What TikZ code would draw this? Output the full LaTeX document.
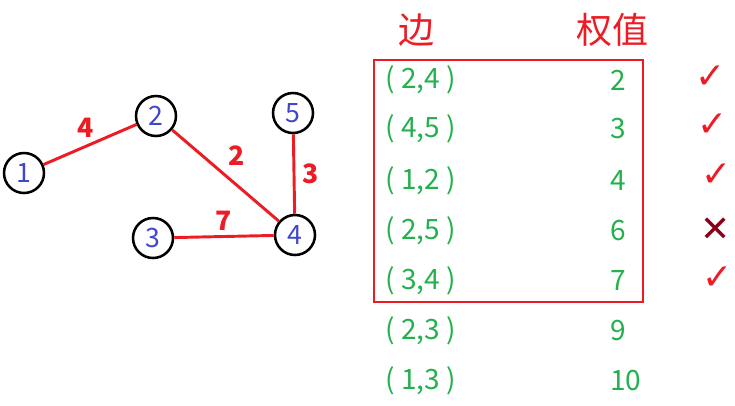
\documentclass[tikz,border=0pt]{standalone}
\usepackage{fontspec}
\setmainfont{Noto Sans CJK SC}
\newfontfamily\symfont{DejaVu Sans}
\usetikzlibrary{positioning}
\definecolor{edgered}{RGB}{237,28,36}
\definecolor{tabgreen}{RGB}{34,177,76}
\definecolor{numblue}{RGB}{63,72,204}
\definecolor{darkred}{RGB}{136,0,21}

\begin{document}
\begin{tikzpicture}[
        x=0.75pt, y=-0.75pt,
        vertex/.style={circle, draw=black, line width=1.9pt, minimum size=30pt, inner sep=0pt, text=numblue, font=\fontsize{20}{20}\selectfont},
        edge/.style={draw=edgered, line width=2.2pt},
        weight/.style={text=edgered, font=\fontsize{20}{20}\selectfont\bfseries},
        head/.style={text=edgered, font=\fontsize{27}{27}\selectfont},
        pair/.style={anchor=west, text=tabgreen, font=\fontsize{21}{21}\selectfont, inner sep=0pt},
        cost/.style={anchor=west, text=tabgreen, font=\fontsize{21}{21}\selectfont, inner sep=0pt},
        tick/.style={font=\symfont\fontsize{27}{27}\selectfont}
    ]
        \useasboundingbox (0,0) rectangle (735,405);

        % graph
        \node[vertex] (v1) at (24,173) {1};
        \node[vertex] (v2) at (156,116) {2};
        \node[vertex] (v5) at (293,113) {5};
        \node[vertex] (v3) at (153,238) {3};
        \node[vertex] (v4) at (295,235) {4};

        \draw[edge] (v1) -- node[weight, above=2pt, pos=0.45] {4} (v2);
        \draw[edge] (v2) -- node[weight, above right=0pt and 2pt, pos=0.45] {2} (v4);
        \draw[edge] (v5) -- node[weight, right=2pt] {3} (v4);
        \draw[edge] (v3) -- node[weight, above=0pt] {7} (v4);

        % table
        \node[head] (hedge) at (416,30) {边};
        \node[head] (hcost) at (612,30) {权值};
        \draw[edgered, line width=2.1pt] (374,60) rectangle (643,302);

        \node[pair] (p1) at (385,80) {( 2,4 )};
        \node[pair] (p2) at (385,129) {( 4,5 )};
        \node[pair] (p3) at (385,181) {( 1,2 )};
        \node[pair] (p4) at (385,231) {( 2,5 )};
        \node[pair] (p5) at (385,281) {( 3,4 )};
        \node[pair] (p6) at (385,331) {( 2,3 )};
        \node[pair] (p7) at (385,381) {( 1,3 )};

        \node[cost] (c1) at (610,80) {2};
        \node[cost] (c2) at (610,129) {3};
        \node[cost] (c3) at (610,181) {4};
        \node[cost] (c4) at (610,231) {6};
        \node[cost] (c5) at (610,281) {7};
        \node[cost] (c6) at (610,331) {9};
        \node[cost] (c7) at (610,381) {10};

        \node[tick, text=edgered] (m1) at (711,77) {✓};
        \node[tick, text=edgered] (m2) at (713,125) {✓};
        \node[tick, text=edgered] (m3) at (717,175) {✓};
        \node[tick, text=darkred] (m4) at (716,230) {✕};
        \node[tick, text=edgered] (m5) at (718,278) {✓};

    \end{tikzpicture}
\end{document}
